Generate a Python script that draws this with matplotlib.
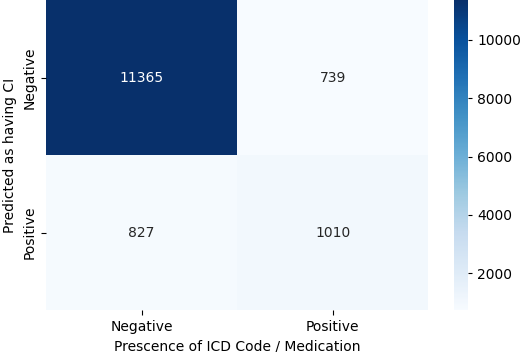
import numpy as np
import matplotlib
matplotlib.use("Agg")
import matplotlib.pyplot as plt
import seaborn as sns

labels = ["Negative", "Positive"]
counts = np.array([[11365, 739],
                   [827, 1010]])

fig = plt.figure(figsize=(5.24, 3.52), dpi=100)
ax = fig.add_axes([0.088, 0.119, 0.729, 0.881])
cax = fig.add_axes([0.866, 0.119, 0.027, 0.881])

sns.heatmap(counts, annot=True, fmt="d", cmap="Blues", ax=ax, cbar_ax=cax,
            xticklabels=labels, yticklabels=labels)
ax.set_xlabel("Prescence of ICD Code / Medication")
ax.set_ylabel("Predicted as having CI")
cax.tick_params(length=3)

fig.savefig("out.png", dpi=100)
